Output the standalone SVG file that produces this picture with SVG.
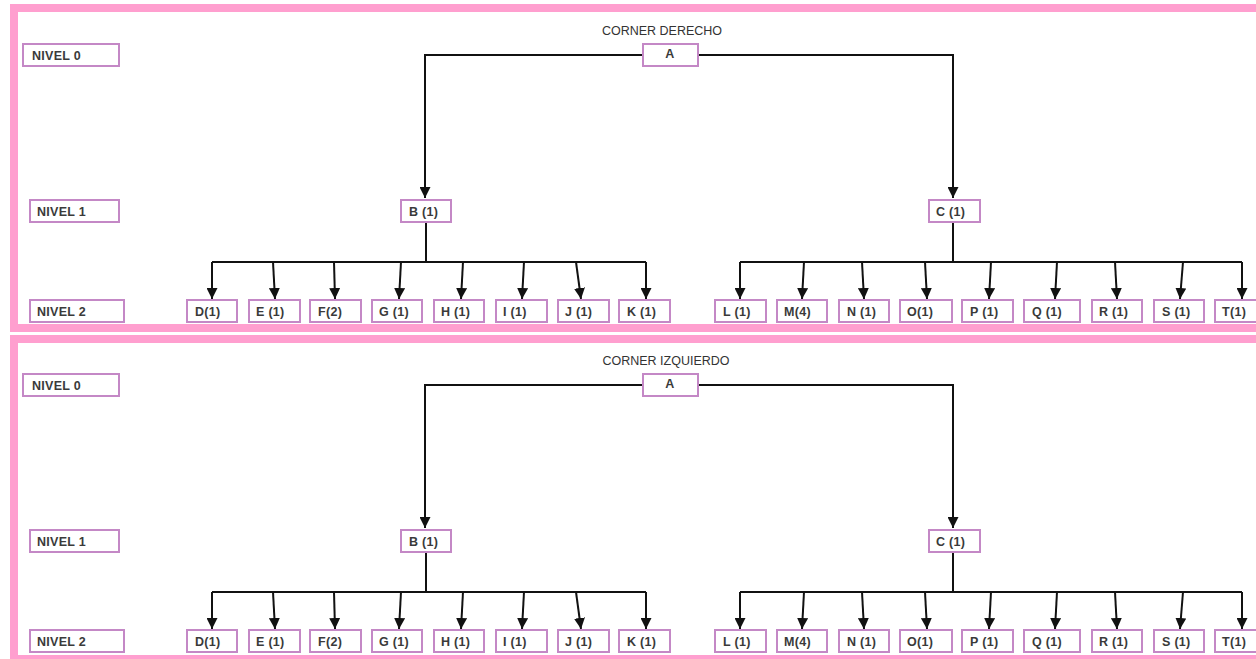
<svg xmlns="http://www.w3.org/2000/svg" width="1256" height="659" viewBox="0 0 1256 659">
<defs>
<style>
.frame{fill:none;stroke:#ff9fcf;stroke-width:8}
.box{fill:#fff;stroke:#c488c6;stroke-width:2}
.lbl{font-family:"Liberation Sans",Arial,sans-serif;font-size:12.5px;fill:#3a3a3a;font-weight:bold;letter-spacing:0.3px}
.title{font-family:"Liberation Sans",Arial,sans-serif;font-size:12.5px;fill:#333;text-anchor:middle}
.mid{text-anchor:middle}
.con{fill:none;stroke:#111;stroke-width:2}
</style>
<marker id="ah" viewBox="0 0 10 10" refX="10" refY="5" markerWidth="5.5" markerHeight="5.5" orient="auto" markerUnits="strokeWidth">
<path d="M0,0 L10,5 L0,10 z" fill="#111"/>
</marker>
</defs>
<rect width="1256" height="659" fill="#fff"/>
<rect class="frame" x="14" y="8" width="1260" height="320"/>
<rect class="frame" x="14" y="339" width="1260" height="320"/>

<g id="section-derecho">
<text class="title" x="662" y="35">CORNER DERECHO</text>
<g id="connectors-1">
<path class="con" d="M643,55 H425 V198" marker-end="url(#ah)"/>
<path class="con" d="M698,55 H953 V198" marker-end="url(#ah)"/>
<path class="con" d="M426,222 V262 M212,262 H646"/>
<path class="con" d="M953,222 V262 M740,262 H1242"/>
<path class="con" d="M212,262 V299" marker-end="url(#ah)"/>
<path class="con" d="M273,262 L275,299" marker-end="url(#ah)"/>
<path class="con" d="M334,262 L335,299" marker-end="url(#ah)"/>
<path class="con" d="M401,262 L399,299" marker-end="url(#ah)"/>
<path class="con" d="M463,262 L461,299" marker-end="url(#ah)"/>
<path class="con" d="M524,262 L522,299" marker-end="url(#ah)"/>
<path class="con" d="M576,262 L581,299" marker-end="url(#ah)"/>
<path class="con" d="M646,262 V299" marker-end="url(#ah)"/>
<path class="con" d="M740,262 V299" marker-end="url(#ah)"/>
<path class="con" d="M804,262 L802,299" marker-end="url(#ah)"/>
<path class="con" d="M862,262 L864,299" marker-end="url(#ah)"/>
<path class="con" d="M925,262 L927,299" marker-end="url(#ah)"/>
<path class="con" d="M991,262 L989,299" marker-end="url(#ah)"/>
<path class="con" d="M1057,262 L1055,299" marker-end="url(#ah)"/>
<path class="con" d="M1115,262 L1117,299" marker-end="url(#ah)"/>
<path class="con" d="M1183,262 L1180,299" marker-end="url(#ah)"/>
<path class="con" d="M1242,262 V299" marker-end="url(#ah)"/>
</g>
<g id="n1-nivel0"><rect class="box" x="23" y="44" width="96" height="22"/><text class="lbl" x="32" y="60">NIVEL 0</text></g>
<g id="n1-nivel1"><rect class="box" x="30" y="200" width="89" height="22"/><text class="lbl" x="37" y="216">NIVEL 1</text></g>
<g id="n1-nivel2"><rect class="box" x="30" y="300" width="94" height="22"/><text class="lbl" x="37" y="316">NIVEL 2</text></g>
<g id="n1-A"><rect class="box" x="643" y="44" width="55" height="22"/><text class="lbl mid" x="670" y="58">A</text></g>
<g id="n1-B"><rect class="box" x="401" y="200" width="50" height="22"/><text class="lbl" x="409" y="216">B (1)</text></g>
<g id="n1-C"><rect class="box" x="929" y="200" width="51" height="22"/><text class="lbl" x="936" y="216">C (1)</text></g>
<g id="n1-D"><rect class="box" x="187" y="300" width="50" height="22"/><text class="lbl" x="195" y="316">D(1)</text></g>
<g id="n1-E"><rect class="box" x="249" y="300" width="51" height="22"/><text class="lbl" x="256" y="316">E (1)</text></g>
<g id="n1-F"><rect class="box" x="310" y="300" width="51" height="22"/><text class="lbl" x="318" y="316">F(2)</text></g>
<g id="n1-G"><rect class="box" x="372" y="300" width="50" height="22"/><text class="lbl" x="379" y="316">G (1)</text></g>
<g id="n1-H"><rect class="box" x="434" y="300" width="50" height="22"/><text class="lbl" x="441" y="316">H (1)</text></g>
<g id="n1-I"><rect class="box" x="496" y="300" width="51" height="22"/><text class="lbl" x="503" y="316">I (1)</text></g>
<g id="n1-J"><rect class="box" x="558" y="300" width="51" height="22"/><text class="lbl" x="565" y="316">J (1)</text></g>
<g id="n1-K"><rect class="box" x="619" y="300" width="51" height="22"/><text class="lbl" x="627" y="316">K (1)</text></g>
<g id="n1-L"><rect class="box" x="715" y="300" width="51" height="22"/><text class="lbl" x="723" y="316">L (1)</text></g>
<g id="n1-M"><rect class="box" x="777" y="300" width="50" height="22"/><text class="lbl" x="784" y="316">M(4)</text></g>
<g id="n1-N"><rect class="box" x="839" y="300" width="50" height="22"/><text class="lbl" x="847" y="316">N (1)</text></g>
<g id="n1-O"><rect class="box" x="900" y="300" width="52" height="22"/><text class="lbl" x="907" y="316">O(1)</text></g>
<g id="n1-P"><rect class="box" x="962" y="300" width="51" height="22"/><text class="lbl" x="970" y="316">P (1)</text></g>
<g id="n1-Q"><rect class="box" x="1024" y="300" width="56" height="22"/><text class="lbl" x="1032" y="316">Q (1)</text></g>
<g id="n1-R"><rect class="box" x="1092" y="300" width="50" height="22"/><text class="lbl" x="1099" y="316">R (1)</text></g>
<g id="n1-S"><rect class="box" x="1154" y="300" width="50" height="22"/><text class="lbl" x="1162" y="316">S (1)</text></g>
<g id="n1-T"><rect class="box" x="1215" y="300" width="50" height="22"/><text class="lbl" x="1222" y="316">T(1)</text></g>
</g>

<g id="section-izquierdo" transform="translate(0,330)">
<text class="title" x="666" y="35">CORNER IZQUIERDO</text>
<g id="connectors-2">
<path class="con" d="M643,55 H425 V198" marker-end="url(#ah)"/>
<path class="con" d="M698,55 H953 V198" marker-end="url(#ah)"/>
<path class="con" d="M426,222 V262 M212,262 H646"/>
<path class="con" d="M953,222 V262 M740,262 H1242"/>
<path class="con" d="M212,262 V299" marker-end="url(#ah)"/>
<path class="con" d="M273,262 L275,299" marker-end="url(#ah)"/>
<path class="con" d="M334,262 L335,299" marker-end="url(#ah)"/>
<path class="con" d="M401,262 L399,299" marker-end="url(#ah)"/>
<path class="con" d="M463,262 L461,299" marker-end="url(#ah)"/>
<path class="con" d="M524,262 L522,299" marker-end="url(#ah)"/>
<path class="con" d="M576,262 L581,299" marker-end="url(#ah)"/>
<path class="con" d="M646,262 V299" marker-end="url(#ah)"/>
<path class="con" d="M740,262 V299" marker-end="url(#ah)"/>
<path class="con" d="M804,262 L802,299" marker-end="url(#ah)"/>
<path class="con" d="M862,262 L864,299" marker-end="url(#ah)"/>
<path class="con" d="M925,262 L927,299" marker-end="url(#ah)"/>
<path class="con" d="M991,262 L989,299" marker-end="url(#ah)"/>
<path class="con" d="M1057,262 L1055,299" marker-end="url(#ah)"/>
<path class="con" d="M1115,262 L1117,299" marker-end="url(#ah)"/>
<path class="con" d="M1183,262 L1180,299" marker-end="url(#ah)"/>
<path class="con" d="M1242,262 V299" marker-end="url(#ah)"/>
</g>
<g id="n2-nivel0"><rect class="box" x="23" y="44" width="96" height="22"/><text class="lbl" x="32" y="60">NIVEL 0</text></g>
<g id="n2-nivel1"><rect class="box" x="30" y="200" width="89" height="22"/><text class="lbl" x="37" y="216">NIVEL 1</text></g>
<g id="n2-nivel2"><rect class="box" x="30" y="300" width="94" height="22"/><text class="lbl" x="37" y="316">NIVEL 2</text></g>
<g id="n2-A"><rect class="box" x="643" y="44" width="55" height="22"/><text class="lbl mid" x="670" y="58">A</text></g>
<g id="n2-B"><rect class="box" x="401" y="200" width="50" height="22"/><text class="lbl" x="409" y="216">B (1)</text></g>
<g id="n2-C"><rect class="box" x="929" y="200" width="51" height="22"/><text class="lbl" x="936" y="216">C (1)</text></g>
<g id="n2-D"><rect class="box" x="187" y="300" width="50" height="22"/><text class="lbl" x="195" y="316">D(1)</text></g>
<g id="n2-E"><rect class="box" x="249" y="300" width="51" height="22"/><text class="lbl" x="256" y="316">E (1)</text></g>
<g id="n2-F"><rect class="box" x="310" y="300" width="51" height="22"/><text class="lbl" x="318" y="316">F(2)</text></g>
<g id="n2-G"><rect class="box" x="372" y="300" width="50" height="22"/><text class="lbl" x="379" y="316">G (1)</text></g>
<g id="n2-H"><rect class="box" x="434" y="300" width="50" height="22"/><text class="lbl" x="441" y="316">H (1)</text></g>
<g id="n2-I"><rect class="box" x="496" y="300" width="51" height="22"/><text class="lbl" x="503" y="316">I (1)</text></g>
<g id="n2-J"><rect class="box" x="558" y="300" width="51" height="22"/><text class="lbl" x="565" y="316">J (1)</text></g>
<g id="n2-K"><rect class="box" x="619" y="300" width="51" height="22"/><text class="lbl" x="627" y="316">K (1)</text></g>
<g id="n2-L"><rect class="box" x="715" y="300" width="51" height="22"/><text class="lbl" x="723" y="316">L (1)</text></g>
<g id="n2-M"><rect class="box" x="777" y="300" width="50" height="22"/><text class="lbl" x="784" y="316">M(4)</text></g>
<g id="n2-N"><rect class="box" x="839" y="300" width="50" height="22"/><text class="lbl" x="847" y="316">N (1)</text></g>
<g id="n2-O"><rect class="box" x="900" y="300" width="52" height="22"/><text class="lbl" x="907" y="316">O(1)</text></g>
<g id="n2-P"><rect class="box" x="962" y="300" width="51" height="22"/><text class="lbl" x="970" y="316">P (1)</text></g>
<g id="n2-Q"><rect class="box" x="1024" y="300" width="56" height="22"/><text class="lbl" x="1032" y="316">Q (1)</text></g>
<g id="n2-R"><rect class="box" x="1092" y="300" width="50" height="22"/><text class="lbl" x="1099" y="316">R (1)</text></g>
<g id="n2-S"><rect class="box" x="1154" y="300" width="50" height="22"/><text class="lbl" x="1162" y="316">S (1)</text></g>
<g id="n2-T"><rect class="box" x="1215" y="300" width="50" height="22"/><text class="lbl" x="1222" y="316">T(1)</text></g>
</g>
</svg>
